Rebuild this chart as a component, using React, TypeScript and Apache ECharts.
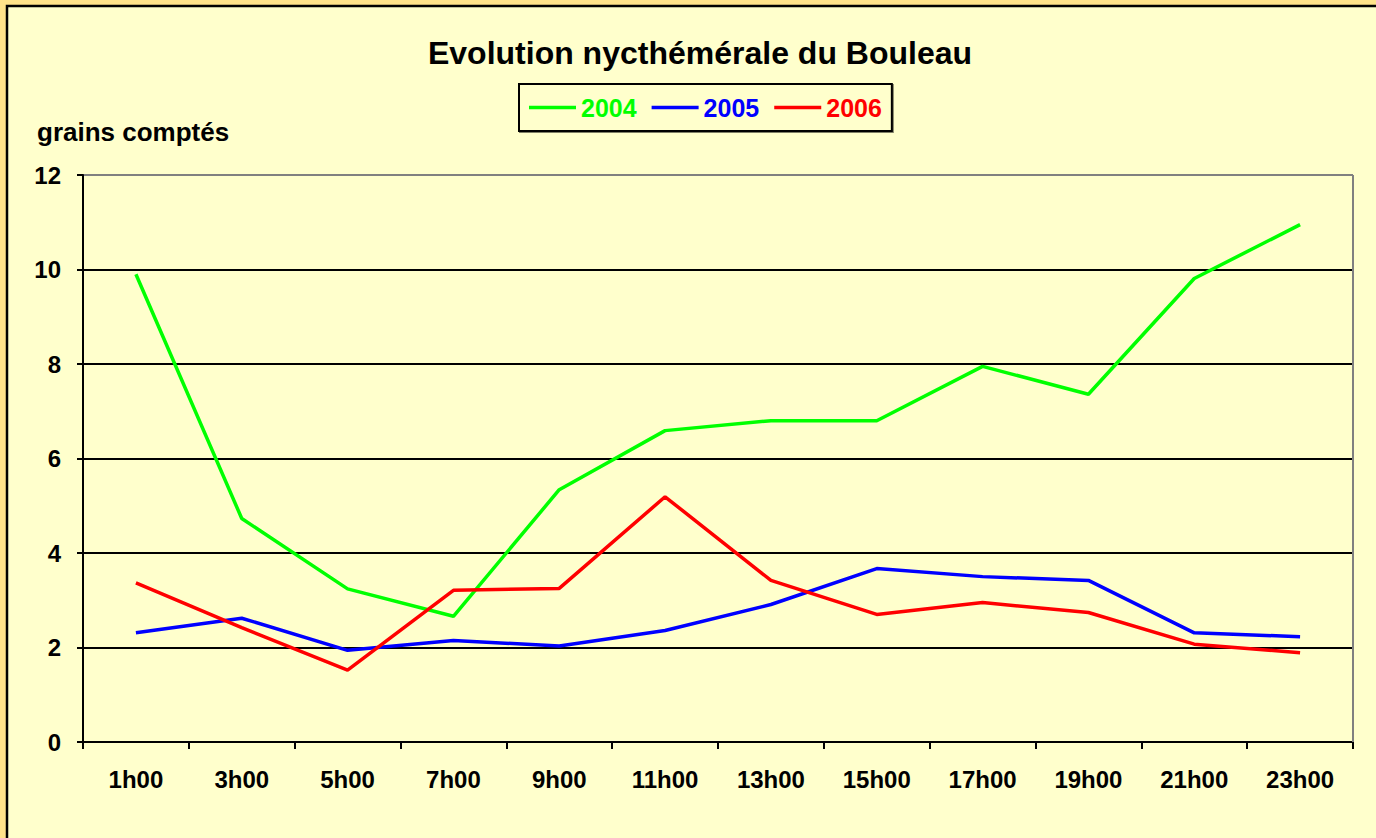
import React, { useEffect, useRef } from "react";
import * as echarts from "echarts";

const hours = ["1h00", "3h00", "5h00", "7h00", "9h00", "11h00", "13h00", "15h00", "17h00", "19h00", "21h00", "23h00"];
const series2004 = [9.9, 4.73, 3.24, 2.66, 5.34, 6.59, 6.8, 6.8, 7.95, 7.36, 9.81, 10.95];
const series2005 = [2.31, 2.62, 1.94, 2.15, 2.03, 2.36, 2.91, 3.67, 3.5, 3.42, 2.31, 2.23];
const series2006 = [3.37, 2.42, 1.52, 3.21, 3.25, 5.19, 3.42, 2.7, 2.95, 2.74, 2.07, 1.89];
const seriesNames = ["2004", "2005", "2006"];
const seriesColors = ["#00FF00", "#0000FF", "#FF0000"];
const yMin = 0;
const yMax = 12;
const yStep = 2;

const FONT = "'Liberation Sans', Arial, sans-serif";

export default function App() {
  const ref = useRef<HTMLDivElement>(null);

  useEffect(() => {
    if (!ref.current) return;
    const chart = echarts.init(ref.current, undefined, { renderer: "svg" });
    const data = [series2004, series2005, series2006];
    const gridLineColors = ["#000", "#000", "#000", "#000", "#000", "#000", "#808080"];
    chart.setOption({
      animation: false,
      backgroundColor: "transparent",
      textStyle: { fontFamily: FONT },
      graphic: [
        {
          type: "rect",
          z: -10,
          shape: { x: 7, y: 6, width: 1400, height: 900 },
          style: { fill: "#FFFFCC", stroke: "#000", lineWidth: 2.5 },
        },
        {
          type: "line",
          z: 10,
          shape: { x1: 1353, y1: 175, x2: 1353, y2: 742 },
          style: { stroke: "#808080", lineWidth: 2 },
        },
        {
          type: "text",
          x: 700,
          y: 53,
          style: {
            text: "Evolution nycthémérale du Bouleau",
            fontFamily: FONT,
            fontWeight: "bold",
            fontSize: 32,
            fill: "#000",
            align: "center",
            verticalAlign: "middle",
          },
        },
        {
          type: "text",
          x: 37,
          y: 132,
          style: {
            text: "grains comptés",
            fontFamily: FONT,
            fontWeight: "bold",
            fontSize: 26,
            fill: "#000",
            align: "left",
            verticalAlign: "middle",
          },
        },
      ],
      legend: {
        left: 519,
        top: 84,
        orient: "horizontal",
        padding: [11, 10, 11, 10],
        itemGap: 15,
        itemWidth: 47,
        itemHeight: 3.5,
        borderColor: "#000",
        borderWidth: 2,
        backgroundColor: "#FFFFCC",
        shadowColor: "rgba(0,0,0,0.5)",
        shadowOffsetX: 1,
        shadowOffsetY: 1,
        data: seriesNames.map((n, i) => ({
          name: n,
          icon: "rect",
          itemStyle: { color: seriesColors[i] },
          textStyle: { color: seriesColors[i], fontWeight: "bold", fontSize: 25, fontFamily: FONT },
        })),
      },
      grid: { left: 83, right: 23, top: 175, bottom: 96, containLabel: false },
      xAxis: {
        type: "category",
        data: hours,
        boundaryGap: true,
        axisLine: { show: true, lineStyle: { color: "#000", width: 2 } },
        axisTick: { show: true, length: 7, inside: false, alignWithLabel: false, lineStyle: { color: "#000", width: 2 } },
        axisLabel: { color: "#000", fontWeight: "bold", fontSize: 24, fontFamily: FONT, margin: 25, interval: 0 },
        splitLine: { show: false },
      },
      yAxis: {
        type: "value",
        min: yMin,
        max: yMax,
        interval: yStep,
        axisLine: { show: true, lineStyle: { color: "#000", width: 2 } },
        axisTick: { show: true, length: 6, inside: false, lineStyle: { color: "#000", width: 2 } },
        axisLabel: { color: "#000", fontWeight: "bold", fontSize: 24, fontFamily: FONT, margin: 22 },
        splitLine: { show: true, lineStyle: { color: gridLineColors, width: 2 } },
      },
      series: data.map((d, i) => ({
        name: seriesNames[i],
        type: "line",
        data: d,
        symbol: "none",
        lineStyle: { color: seriesColors[i], width: 3.5 },
        itemStyle: { color: seriesColors[i] },
        z: 3 + i,
      })),
    });
    return () => chart.dispose();
  }, []);

  return (
    <div
      style={{
        position: "absolute",
        left: 0,
        top: 0,
        width: 1376,
        height: 838,
        background: "#FFE38A",
      }}
    >
      <div ref={ref} style={{ width: 1376, height: 838 }} />
    </div>
  );
}
